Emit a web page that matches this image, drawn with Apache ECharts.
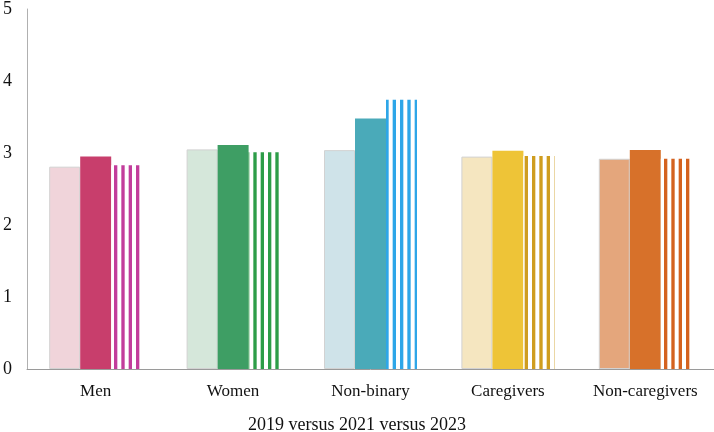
<!DOCTYPE html>
<html>
<head>
<meta charset="utf-8">
<script src="https://cdn.jsdelivr.net/npm/echarts@6/dist/echarts.min.js"></script>
<style>
  html, body { margin: 0; padding: 0; background: #fff; }
  #chart { width: 714px; height: 432px; }
</style>
</head>
<body>
<div id="chart"></div>
<script>
// groups and survey years
const categories = ['Men', 'Women', 'Non-binary', 'Caregivers', 'Non-caregivers']
const years = ['2019', '2021', '2023']
const values2019 = [2.81, 3.05, 3.04, 2.95, 2.92]
const values2021 = [2.95, 3.11, 3.48, 3.03, 3.04]
const values2023 = [2.83, 3.01, 3.74, 2.96, 2.92]
const yTicks = [0, 1, 2, 3, 4, 5]

// colours per group: light (2019), solid (2021), striped (2023)
const lightColors = ['#f0d4da', '#d5e7da', '#cfe3e9', '#f5e6c0', '#e4a67c']
const solidColors = ['#c83e6c', '#3e9e64', '#4aaab9', '#eec437', '#d7712a']
const stripeColors = ['#c23d9b', '#2d9d48', '#2ea6e8', '#cf9d1f', '#d4621f']

const FONT = '"Liberation Serif", "Times New Roman", serif'

// vertical stripes pattern, 3 stripes per 22px tile
function stripePattern(color) {
  const c = document.createElement('canvas')
  c.width = 22
  c.height = 8
  const ctx = c.getContext('2d')
  ctx.fillStyle = '#ffffff'
  ctx.fillRect(0, 0, 22, 8)
  ctx.fillStyle = color
  const period = 22 / 3
  for (let i = 0; i < 3; i++) {
    ctx.fillRect(i * period + 4, 0, period - 4, 8)
  }
  return { image: c, repeat: 'repeat' }
}

const chart = echarts.init(document.getElementById('chart'), null, { renderer: 'canvas' })

chart.setOption({
  backgroundColor: '#ffffff',
  animation: false,
  title: {
    text: years.join(' versus '),
    left: 'center',
    top: 411,
    textStyle: {
      fontFamily: FONT,
      fontWeight: 'normal',
      fontSize: 18,
      color: '#111'
    }
  },
  grid: {
    left: 24,
    right: 0,
    top: 4,
    bottom: 63
  },
  xAxis: {
    type: 'category',
    data: categories,
    axisTick: { show: false },
    axisLine: {
      lineStyle: { color: '#9a9a9a', width: 1 }
    },
    axisLabel: {
      margin: 14,
      fontFamily: FONT,
      fontSize: 17,
      color: '#111'
    }
  },
  yAxis: {
    type: 'value',
    min: 0,
    max: 5,
    interval: 1,
    splitLine: { show: false },
    axisTick: { show: false },
    axisLine: {
      show: true,
      lineStyle: { color: '#b0b0b0', width: 1 }
    },
    axisLabel: {
      margin: 15,
      padding: [5, 0, 0, 0],
      fontFamily: FONT,
      fontSize: 18,
      color: '#111',
      formatter: v => (yTicks.includes(v) ? String(v) : '')
    }
  },
  series: [
    {
      name: years[0],
      type: 'bar',
      barWidth: 31,
      barGap: '0%',
      data: values2019.map((v, i) => ({
        value: v,
        itemStyle: { color: lightColors[i], borderColor: '#d2d2d2', borderWidth: 1 }
      }))
    },
    {
      name: years[1],
      type: 'bar',
      barWidth: 31,
      barGap: '0%',
      data: values2021.map((v, i) => ({
        value: v,
        itemStyle: { color: solidColors[i] }
      }))
    },
    {
      name: years[2],
      type: 'bar',
      barWidth: 31,
      barGap: '0%',
      data: values2023.map((v, i) => ({
        value: v,
        itemStyle: { color: stripePattern(stripeColors[i]) }
      }))
    }
  ]
})
</script>
</body>
</html>
